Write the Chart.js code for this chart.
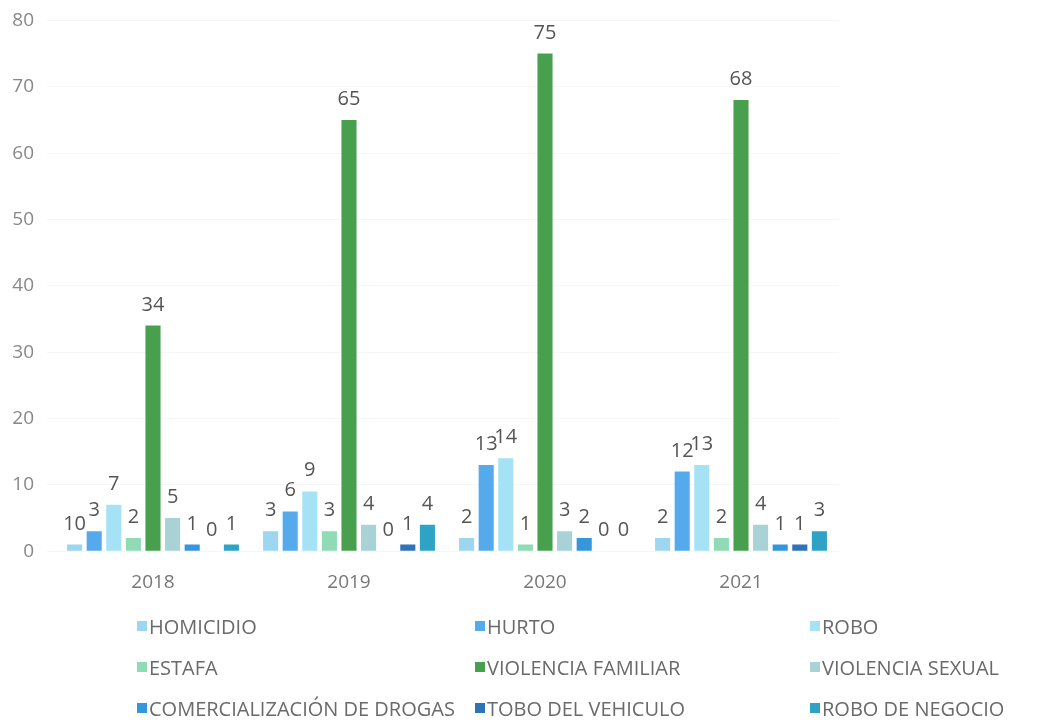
<!DOCTYPE html>
<html>
<head>
<meta charset="utf-8">
<script src="https://cdn.jsdelivr.net/npm/chart.js@4.4.1/dist/chart.umd.min.js"></script>
<style>
  html, body { margin:0; padding:0; background:#fff; }
  body { position:relative; width:1040px; height:725px; overflow:hidden; }
  #wrap { position:absolute; left:0; top:-4px; width:1040px; height:615px; }
  #legend { position:absolute; left:0; top:600px; width:1040px; height:125px; font-family:"Open Sans", sans-serif; font-size:20px; color:#6a6a6a; }
  .li { position:absolute; display:flex; align-items:center; white-space:nowrap; height:28px; }
  .li i { display:inline-block; width:10px; height:10px; margin-right:2px; }
</style>
</head>
<body>
<div id="wrap"><canvas id="chart"></canvas></div>
<div id="legend"></div>
<script>
// Datos
const anios = ['2018', '2019', '2020', '2021'];
const delitos = ['HOMICIDIO', 'HURTO', 'ROBO', 'ESTAFA', 'VIOLENCIA FAMILIAR', 'VIOLENCIA SEXUAL', 'COMERCIALIZACIÓN DE DROGAS', 'TOBO DEL VEHICULO', 'ROBO DE NEGOCIO'];
const homicidio = [1, 3, 2, 2];
const hurto = [3, 6, 13, 12];
const robo = [7, 9, 14, 13];
const estafa = [2, 3, 1, 2];
const violenciaFamiliar = [34, 65, 75, 68];
const violenciaSexual = [5, 4, 3, 4];
const comercializacion = [1, 0, 2, 1];
const toboVehiculo = [0, 1, 0, 1];
const roboNegocio = [1, 4, 0, 3];
// la etiqueta de homicidio 2018 aparece como "10" en el original
const homicidioTexto = ['10', '3', '2', '2'];
const yTicks = [0, 10, 20, 30, 40, 50, 60, 70, 80];

const series = [homicidio, hurto, robo, estafa, violenciaFamiliar, violenciaSexual, comercializacion, toboVehiculo, roboNegocio];
const colores = ['#9dd6f0', '#55aaeb', '#a6e2f6', '#90dbb6', '#48a04f', '#a8d2d6', '#3596dc', '#2e72b8', '#2fa3c6'];

const datasets = series.map((s, i) => ({
  label: delitos[i],
  data: s,
  backgroundColor: colores[i],
  borderWidth: 0,
  categoryPercentage: 0.9,
  barPercentage: 0.77
}));

// etiquetas de valor encima de cada barra
const valueLabels = {
  id: 'valueLabels',
  afterDatasetsDraw(chart) {
    const ctx = chart.ctx;
    ctx.save();
    ctx.font = '20px "Open Sans", sans-serif';
    ctx.fillStyle = '#555';
    ctx.textAlign = 'center';
    ctx.textBaseline = 'alphabetic';
    chart.data.datasets.forEach((ds, di) => {
      chart.getDatasetMeta(di).data.forEach((bar, j) => {
        const txt = di === 0 ? homicidioTexto[j] : String(ds.data[j]);
        ctx.fillText(txt, bar.x, bar.y - 15);
      });
    });
    ctx.restore();
  }
};

new Chart(document.getElementById('chart'), {
  type: 'bar',
  data: { labels: anios, datasets },
  plugins: [valueLabels],
  options: {
    responsive: true,
    maintainAspectRatio: false,
    animation: false,
    layout: { padding: { top: 0, right: 201, bottom: 5, left: 0 } },
    plugins: { legend: { display: false }, tooltip: { enabled: false } },
    scales: {
      x: {
        grid: { display: false },
        border: { display: false },
        ticks: { color: '#777', font: { size: 19, family: 'Open Sans' }, padding: 12 }
      },
      y: {
        min: 0, max: 80,
        afterBuildTicks: s => { s.ticks = yTicks.map(v => ({ value: v })); },
        afterFit: s => { s.width = 55; },
        grid: { color: '#f6f6f6' },
        border: { display: false },
        ticks: { color: '#888', font: { size: 19, family: 'Open Sans' }, padding: 13 }
      }
    }
  }
});

// leyenda en tres columnas
const cols = [137, 475, 810];
const rows = [26, 67, 108];
const leg = document.getElementById('legend');
delitos.forEach((d, i) => {
  const el = document.createElement('div');
  el.className = 'li';
  el.style.left = cols[i % 3] + 'px';
  el.style.top = (rows[Math.floor(i / 3)] - 14) + 'px';
  el.innerHTML = `<i style="background:${colores[i]}"></i>${d}`;
  leg.appendChild(el);
});
</script>
</body>
</html>
